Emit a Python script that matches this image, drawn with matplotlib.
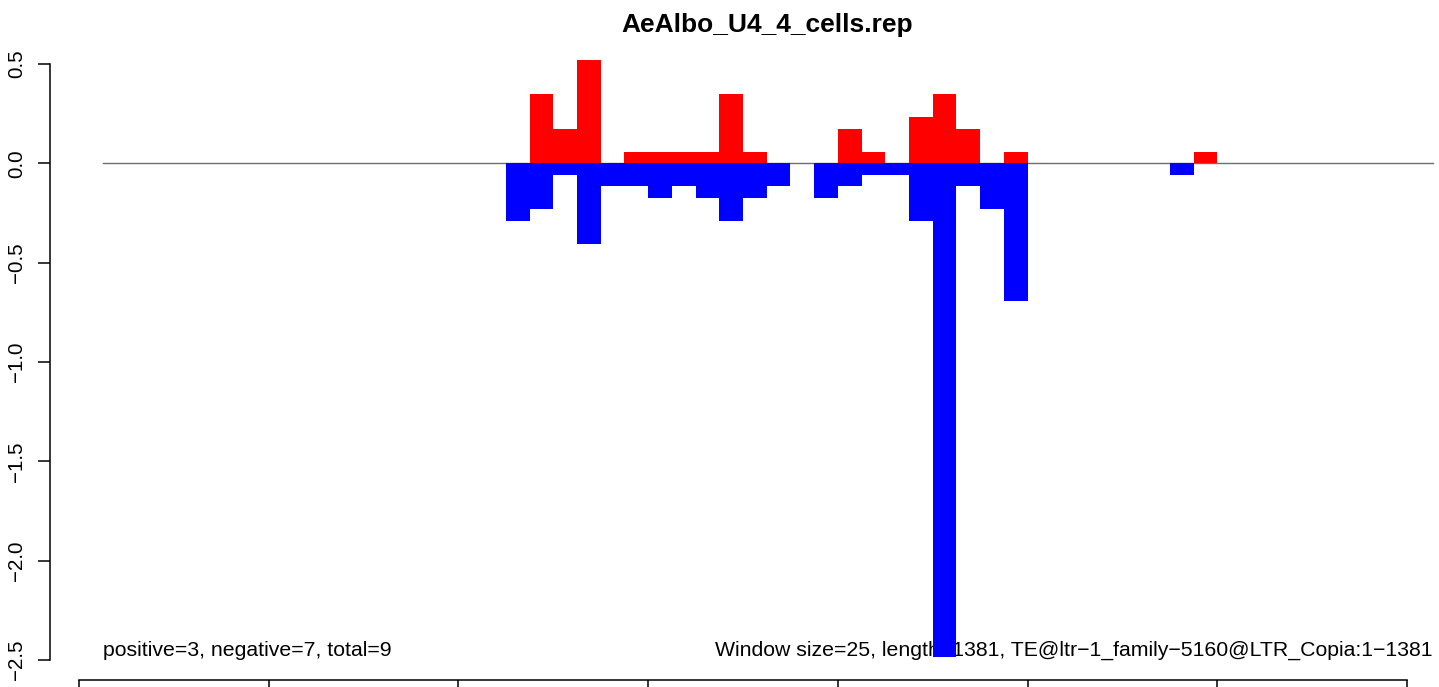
import matplotlib
matplotlib.use("Agg")
import matplotlib.pyplot as plt

plt.rcParams['font.family'] = ['Liberation Sans', 'DejaVu Sans']

title = "AeAlbo_U4_4_cells.rep"
window = 25
left_note = "positive=3, negative=7, total=9"
right_note = "Window size=25, length=1381, TE@ltr\u22121_family\u22125160@LTR_Copia:1\u22121381"

pos_start = [475, 500, 525, 575, 600, 625, 650, 675, 700, 800, 825, 875, 900, 925, 975, 1175]
pos_val = [0.347, 0.173, 0.520, 0.058, 0.058, 0.058, 0.058, 0.347, 0.058, 0.173, 0.058,
           0.231, 0.347, 0.173, 0.058, 0.058]

neg_start = [450, 475, 500, 525, 550, 575, 600, 625, 650, 675, 700, 725, 775, 800, 825,
             850, 875, 900, 925, 950, 975, 1150]
neg_val = [-0.289, -0.231, -0.058, -0.405, -0.116, -0.116, -0.173, -0.116, -0.173, -0.289,
           -0.173, -0.116, -0.173, -0.116, -0.058, -0.058, -0.289, -2.486, -0.116, -0.231,
           -0.694, -0.058]

xticks = [0, 200, 400, 600, 800, 1000, 1200, 1400]
yticks = [-2.5, -2.0, -1.5, -1.0, -0.5, 0.0, 0.5]
ytick_labels = ["\u22122.5", "\u22122.0", "\u22121.5", "\u22121.0", "\u22120.5", "0.0", "0.5"]

W, H = 1439, 687
fig = plt.figure(figsize=(W / 100, H / 100), dpi=100)

# pixel geometry
px_x0, px_y0 = 50, 680          # axes left and bottom in pixels (from top for y)
ax = fig.add_axes([px_x0 / W, (H - px_y0) / H, (W - px_x0) / W, px_y0 / H])

sx = 1328 / 1400.0   # px per x unit
x0px = 79            # pixel of x=0
sy = 198.7           # px per y unit
y0px = 163.3         # pixel (from top) of y=0
ax.set_xlim((px_x0 - x0px) / sx, (W - x0px) / sx)
ax.set_ylim((y0px - px_y0) / sy, y0px / sy)

ax.plot([25, 1427], [0, 0], color="#6e6e6e", lw=1.0, zorder=1)
ax.text(25, -2.45, left_note, ha="left", va="center", fontsize=15.3, zorder=2)
ax.text(1427, -2.45, right_note, ha="right", va="center", fontsize=15.3, zorder=2)

ax.bar(pos_start, pos_val, width=window, align="edge", color="#FF0000", linewidth=0, zorder=3)
ax.bar(neg_start, neg_val, width=window, align="edge", color="#0000FF", linewidth=0, zorder=3)

for s in ["top", "right"]:
    ax.spines[s].set_visible(False)
ax.spines["left"].set_bounds(-2.5, 0.5)
ax.spines["bottom"].set_bounds(0, 1400)
ax.spines["left"].set_linewidth(1.1)
ax.spines["bottom"].set_linewidth(1.1)

ax.set_yticks(yticks)
ax.set_yticklabels(ytick_labels, rotation=90, va="center", fontsize=14.8)
ax.tick_params(axis="y", length=8.8, width=1.1, pad=8.5)
ax.set_xticks(xticks)
ax.set_xticklabels([""] * len(xticks))
ax.tick_params(axis="x", length=8.8, width=1.1)

fig.text(767 / W, 1 - 25 / H, title, ha="center", va="center", fontsize=19, fontweight="bold")

fig.savefig("out.png", dpi=100)
